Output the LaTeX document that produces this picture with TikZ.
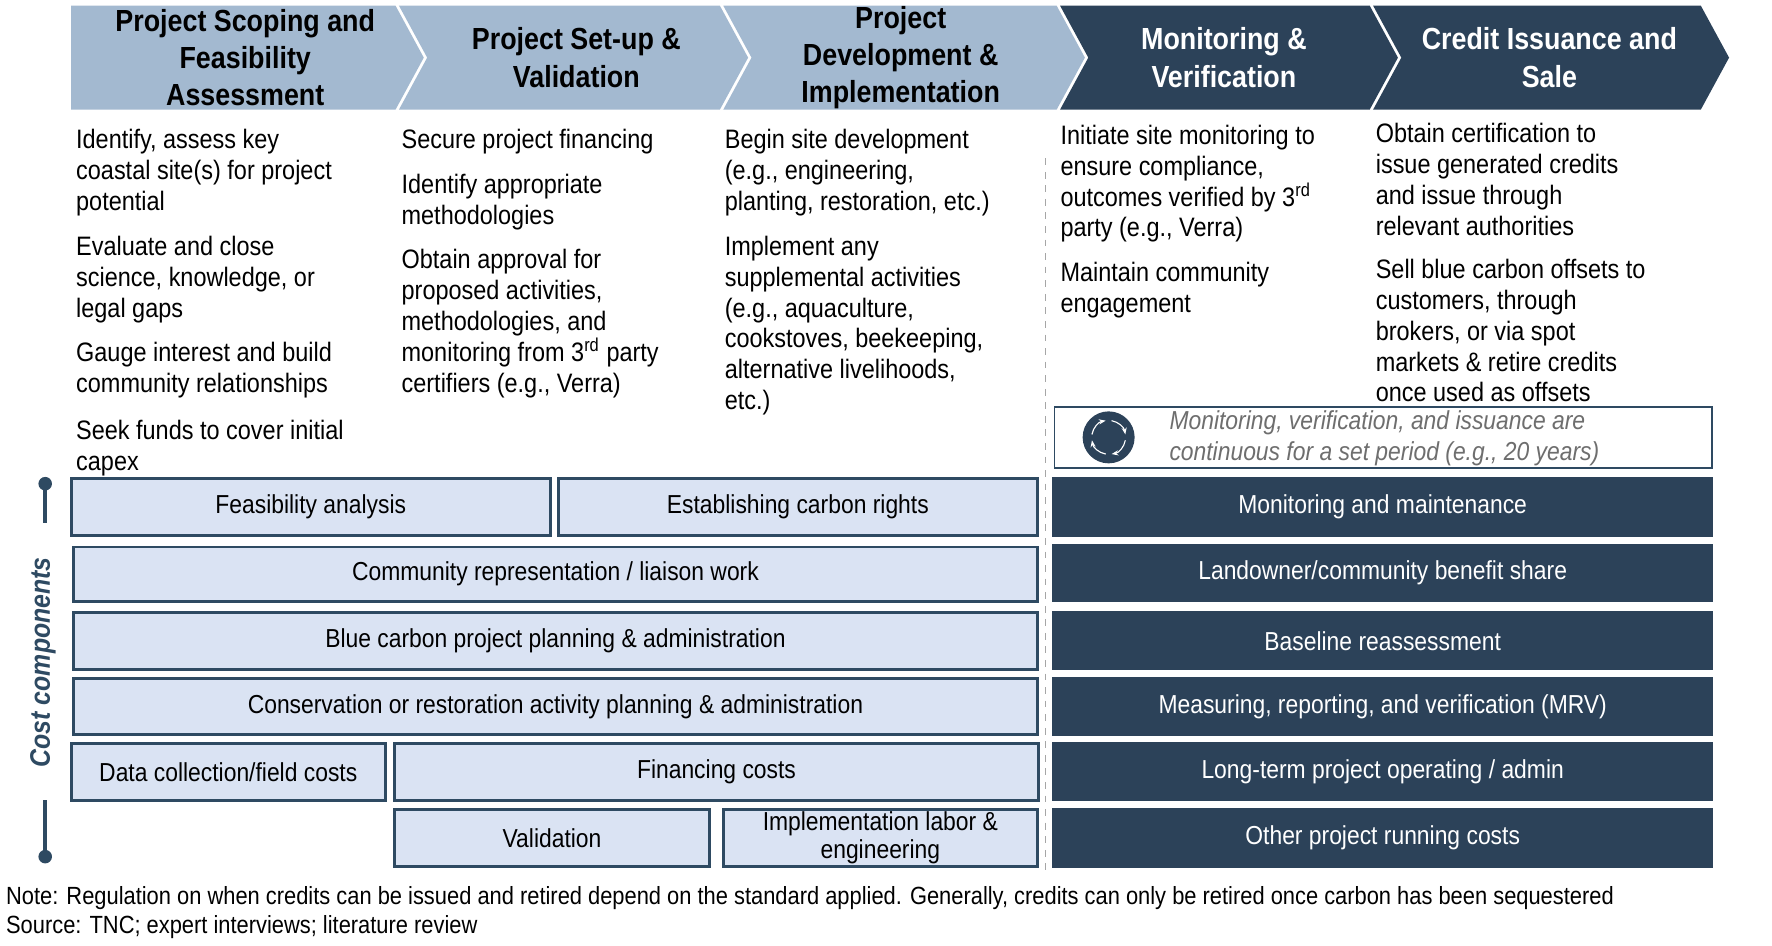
\documentclass[tikz,border=0pt]{standalone}
\usepackage{fontspec}
\setmainfont[FakeStretch=0.88]{Liberation Sans}
\usetikzlibrary{arrows.meta}
\definecolor{hlight}{HTML}{A3B9D0}
\definecolor{hdark}{HTML}{2C4259}
\definecolor{bfill}{HTML}{DAE3F3}
\definecolor{bline}{HTML}{2E4A62}
\definecolor{notegray}{HTML}{6E6E6E}
\begin{document}
\begin{tikzpicture}[x=0.5pt,y=-0.5pt,
  htext/.style={font=\fontsize{13.5}{16.5}\selectfont\bfseries,align=center},
  body/.style={font=\fontsize{11.8}{13.7}\selectfont,align=left,anchor=north west,inner sep=0pt},
  lbox/.style={draw=bline,line width=1.3pt,fill=bfill,font=\fontsize{11.5}{12.5}\selectfont,align=center,inner sep=0pt},
  dbox/.style={draw=hdark,line width=1pt,fill=hdark,text=white,font=\fontsize{11.5}{12.5}\selectfont,align=center,inner sep=0pt}]
\useasboundingbox (0,0) rectangle (1568,837);
% chevrons
\fill[hlight] (63,5) -- (350,5) -- (375,51) -- (350,97) -- (63,97) -- cycle;
\fill[hlight] (353,5) -- (637,5) -- (662,51) -- (637,97) -- (353,97) -- (378,51) -- cycle;
\fill[hlight] (640,5) -- (935,5) -- (960,51) -- (935,97) -- (640,97) -- (665,51) -- cycle;
\fill[hdark] (938,5) -- (1212,5) -- (1237,51) -- (1212,97) -- (938,97) -- (963,51) -- cycle;
\fill[hdark] (1215,5) -- (1505,5) -- (1530,51) -- (1505,97) -- (1215,97) -- (1240,51) -- cycle;
\node[htext] (h1) at (217,51) {Project Scoping and\\Feasibility\\Assessment};
\node[htext] (h2) at (510,51) {Project Set-up \&\\Validation};
\node[htext] (h3) at (797,51) {Project\\Development \&\\Implementation};
\node[htext,text=white] (h4) at (1083,51) {Monitoring \&\\Verification};
\node[htext,text=white] (h5) at (1371,51) {Credit Issuance and\\Sale};
% body text
\node[body] (c1) at (67,114) {Identify, assess key\\coastal site(s) for project\\potential\\[6pt]Evaluate and close\\science, knowledge, or\\legal gaps\\[6pt]Gauge interest and build\\community relationships\\[7pt]Seek funds to cover initial\\capex};
\node[body] (c2) at (355,114) {Secure project financing\\[6pt]Identify appropriate\\methodologies\\[6pt]Obtain approval for\\proposed activities,\\methodologies, and\\monitoring from 3\textsuperscript{rd} party\\certifiers (e.g., Verra)};
\node[body] (c3) at (641,114) {Begin site development\\(e.g., engineering,\\planting, restoration, etc.)\\[6pt]Implement any\\supplemental activities\\(e.g., aquaculture,\\cookstoves, beekeeping,\\alternative livelihoods,\\etc.)};
\node[body] (c4) at (938,110) {Initiate site monitoring to\\ensure compliance,\\outcomes verified by 3\textsuperscript{rd}\\party (e.g., Verra)\\[6pt]Maintain community\\engagement};
\node[body] (c5) at (1217,109) {Obtain certification to\\issue generated credits\\and issue through\\relevant authorities\\[5pt]Sell blue carbon offsets to\\customers, through\\brokers, or via spot\\markets \& retire credits\\once used as offsets};
% dashed divider
\draw[gray!70,dashed,line width=0.6pt] (925,140) -- (925,770);
% continuous note
\node[draw=bline,line width=0.6pt,fill=white,minimum width=291pt,minimum height=27pt,inner sep=0pt] (nb) at (1224,387) {};
\node[fill=hdark,circle,minimum size=23pt,inner sep=0pt] (ic) at (981,387) {};
\foreach \a in {10,100,190,280}
  \draw[white,line width=0.5pt,-{Stealth[length=3pt]}] (ic.center) ++(\a:15) arc (\a:\a+70:15);
\node[font=\fontsize{11.5}{13.6}\selectfont\itshape,text=notegray,align=left] (nt) at (1225,388) {Monitoring, verification, and issuance are\\continuous for a set period (e.g., 20 years)};
% light cost boxes
\node[lbox,minimum width=212pt,minimum height=25.5pt] (b1) at (275,448.5) {Feasibility analysis};
\node[lbox,minimum width=212pt,minimum height=25.5pt] (b2) at (706,448.5) {Establishing carbon rights};
\node[lbox,minimum width=426.5pt,minimum height=24pt] (b3) at (491.5,508) {Community representation / liaison work};
\node[lbox,minimum width=426.5pt,minimum height=25pt] (b4) at (491.5,567) {Blue carbon project planning \& administration};
\node[lbox,minimum width=426.5pt,minimum height=25pt] (b5) at (491.5,625) {Conservation or restoration activity planning \& administration};
\node[lbox,minimum width=139pt,minimum height=25pt] (b6) at (202,683) {Data collection/field costs};
\node[lbox,minimum width=285pt,minimum height=25pt] (b7) at (634,683) {Financing costs};
\node[lbox,minimum width=139.5pt,minimum height=25.5pt] (b8) at (488.5,741.5) {Validation};
\node[lbox,minimum width=139pt,minimum height=25.5pt] (b9) at (779,741.5) {Implementation labor \&\\engineering};
% dark cost boxes
\node[dbox,minimum width=291.5pt,minimum height=25.5pt] (d1) at (1223.5,448.5) {Monitoring and maintenance};
\node[dbox,minimum width=291.5pt,minimum height=25pt] (d2) at (1223.5,507) {Landowner/community benefit share};
\node[dbox,minimum width=291.5pt,minimum height=25pt] (d3) at (1223.5,567) {Baseline reassessment};
\node[dbox,minimum width=291.5pt,minimum height=25pt] (d4) at (1223.5,625) {Measuring, reporting, and verification (MRV)};
\node[dbox,minimum width=291.5pt,minimum height=25pt] (d5) at (1223.5,683) {Long-term project operating / admin};
\node[dbox,minimum width=291.5pt,minimum height=25.5pt] (d6) at (1223.5,741.5) {Other project running costs};
% bracket
\coordinate (t1) at (40,428);
\coordinate (t2) at (40,463);
\coordinate (u1) at (40,708);
\coordinate (u2) at (40,758);
\draw[bline,line width=2pt] (t1) -- (t2);
\draw[bline,line width=2pt] (u1) -- (u2);
\fill[bline] (t1) circle (6);
\fill[bline] (u2) circle (6);
\node[rotate=90,text=bline,font=\fontsize{12.5}{14}\selectfont\bfseries\itshape] (cc) at (38,586) {Cost components};
% notes
\node[anchor=west,inner sep=0pt,font=\fontsize{11}{12}\selectfont] (n1) at (5,795) {Note: Regulation on when credits can be issued and retired depend on the standard applied. Generally, credits can only be retired once carbon has been sequestered};
\node[anchor=west,inner sep=0pt,font=\fontsize{11}{12}\selectfont] (n2) at (5,820) {Source: TNC; expert interviews; literature review};
\end{tikzpicture}
\end{document}
